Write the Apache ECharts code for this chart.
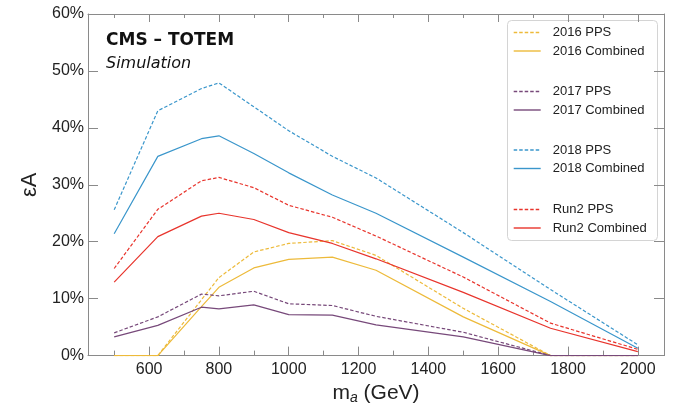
<!DOCTYPE html>
<html>
<head>
<meta charset="utf-8">
<script src="https://cdn.jsdelivr.net/npm/echarts@6/dist/echarts.min.js"></script>
<style>html,body{margin:0;padding:0;background:#fff}#c{width:686px;height:410px}</style>
</head>
<body>
<div id="c"></div>
<script>
const masses = [500, 625, 750, 800, 900, 1000, 1125, 1250, 1500, 1750, 2000];
const pps2016  = [0, 0, 9.8, 13.7, 18.2, 19.7, 20.2, 17.6, 8.3, 0, 0];
const comb2016 = [0, 0, 8.6, 12.0, 15.4, 16.9, 17.3, 15.0, 6.8, 0, 0];
const pps2017  = [4.0, 6.8, 10.8, 10.5, 11.3, 9.1, 8.8, 6.9, 4.1, 0, 0];
const comb2017 = [3.3, 5.3, 8.5, 8.2, 8.9, 7.2, 7.1, 5.4, 3.3, 0, 0];
const pps2018  = [25.6, 43.0, 46.9, 47.9, 43.7, 39.5, 35.0, 31.2, 21.6, 11.6, 1.9];
const comb2018 = [21.4, 35.0, 38.1, 38.6, 35.5, 32.1, 28.2, 25.0, 17.3, 9.5, 1.3];
const ppsRun2  = [15.3, 25.7, 30.7, 31.3, 29.5, 26.4, 24.3, 21.0, 13.8, 5.7, 1.1];
const combRun2 = [12.9, 20.9, 24.5, 25.0, 23.9, 21.6, 19.7, 17.0, 11.1, 4.8, 0.7];
const xMajor = [600, 800, 1000, 1200, 1400, 1600, 1800, 2000];
const xMinor = [500, 700, 900, 1100, 1300, 1500, 1700, 1900];

const C16 = '#EDBA3A', C17 = '#77497A', C18 = '#3A96CB', CR2 = '#E8342C';
const FONT = '"Liberation Sans", Arial, sans-serif';
const DASH = [3.5, 2];

function pair(a) { return masses.map((m, i) => [m, a[i]]); }
function mk(name, vals, color, dashed) {
  return {
    name, type: 'line', data: pair(vals), symbol: 'none', xAxisIndex: 0, yAxisIndex: 0,
    lineStyle: { color, width: 1.2, type: dashed ? DASH : 'solid' },
    itemStyle: { color }, emphasis: { disabled: true }, animation: false
  };
}
const series = [
  mk('2016 PPS', pps2016, C16, true), mk('2016 Combined', comb2016, C16, false),
  mk('2017 PPS', pps2017, C17, true), mk('2017 Combined', comb2017, C17, false),
  mk('2018 PPS', pps2018, C18, true), mk('2018 Combined', comb2018, C18, false),
  mk('Run2 PPS', ppsRun2, CR2, true), mk('Run2 Combined', combRun2, CR2, false)
];
function leg(names, color, top) {
  return {
    data: [
      { name: names[0], itemStyle: { opacity: 0 }, lineStyle: { color, width: 1.4, type: DASH } },
      { name: names[1], itemStyle: { opacity: 0 }, lineStyle: { color, width: 1.4, type: 'solid' } }
    ],
    orient: 'vertical', left: 513, top, padding: 0, itemGap: 5.5,
    itemWidth: 27, itemHeight: 14, selectedMode: false,
    textStyle: { fontFamily: FONT, fontSize: 13, color: '#222', padding: [0, 0, 0, 7] }
  };
}
const axisGrey = '#8a8a8a';
function xAx(pos, ticks, len, labels, line) {
  return {
    type: 'value', position: pos, min: 425, max: 2075,
    axisLine: { show: line, onZero: false, lineStyle: { color: axisGrey, width: 1 } },
    axisTick: { show: true, inside: true, length: len, customValues: ticks, lineStyle: { color: axisGrey } },
    axisLabel: labels ? { show: true, customValues: xMajor, formatter: v => String(v), fontFamily: FONT, fontSize: 16, color: '#222', margin: 6 } : { show: false },
    splitLine: { show: false }
  };
}
const chart = echarts.init(document.getElementById('c'), null, { renderer: 'canvas' });
chart.setOption({
  animation: false,
  grid: { left: 88, right: 22, top: 14, bottom: 51.5, containLabel: false },
  xAxis: [
    Object.assign(xAx('bottom', xMajor, 9, true, true), {
      name: 'm{s|a} (GeV)', nameLocation: 'middle', nameGap: 24,
      nameTextStyle: { fontFamily: FONT, fontSize: 21, color: '#222',
        rich: { s: { fontFamily: FONT, fontSize: 14, fontStyle: 'italic', color: '#222', padding: [10, 0, 0, 0] } } }
    }),
    xAx('bottom', xMinor, 5, false, false),
    xAx('top', xMajor, 8, false, true),
    xAx('top', xMinor, 4, false, false)
  ],
  yAxis: [
    {
      type: 'value', position: 'left', min: 0, max: 60, interval: 10,
      name: 'εA', nameLocation: 'middle', nameGap: 46, nameRotate: 90,
      nameTextStyle: { fontFamily: FONT, fontSize: 22, color: '#222' },
      axisLine: { show: true, lineStyle: { color: axisGrey } },
      axisTick: { show: true, inside: true, length: 10, lineStyle: { color: axisGrey } },
      axisLabel: { formatter: '{value}%', fontFamily: FONT, fontSize: 16, color: '#222', margin: 4 },
      splitLine: { show: false }
    },
    {
      type: 'value', position: 'right', min: 0, max: 60, interval: 10,
      axisLine: { show: true, lineStyle: { color: axisGrey } },
      axisTick: { show: true, inside: true, length: 10, lineStyle: { color: axisGrey } },
      axisLabel: { show: false }, splitLine: { show: false }
    }
  ],
  legend: [
    leg(['2016 PPS', '2016 Combined'], C16, 26),
    leg(['2017 PPS', '2017 Combined'], C17, 85),
    leg(['2018 PPS', '2018 Combined'], C18, 143.5),
    leg(['Run2 PPS', 'Run2 Combined'], CR2, 203)
  ],
  graphic: [
    { type: 'rect', left: 507, top: 20, z: 0, silent: true,
      shape: { width: 150, height: 220, r: 4 },
      style: { fill: '#fff', stroke: '#d4d4d4', lineWidth: 1 } },
    { type: 'text', left: 106, top: 32, silent: true,
      style: { text: 'CMS – TOTEM', font: 'bold 17px "DejaVu Sans", sans-serif', fill: '#111' } },
    { type: 'text', left: 106, top: 56, silent: true,
      style: { text: 'Simulation', font: 'italic 16px "DejaVu Sans", sans-serif', fill: '#111' } }
  ],
  series
});
</script>
</body>
</html>
